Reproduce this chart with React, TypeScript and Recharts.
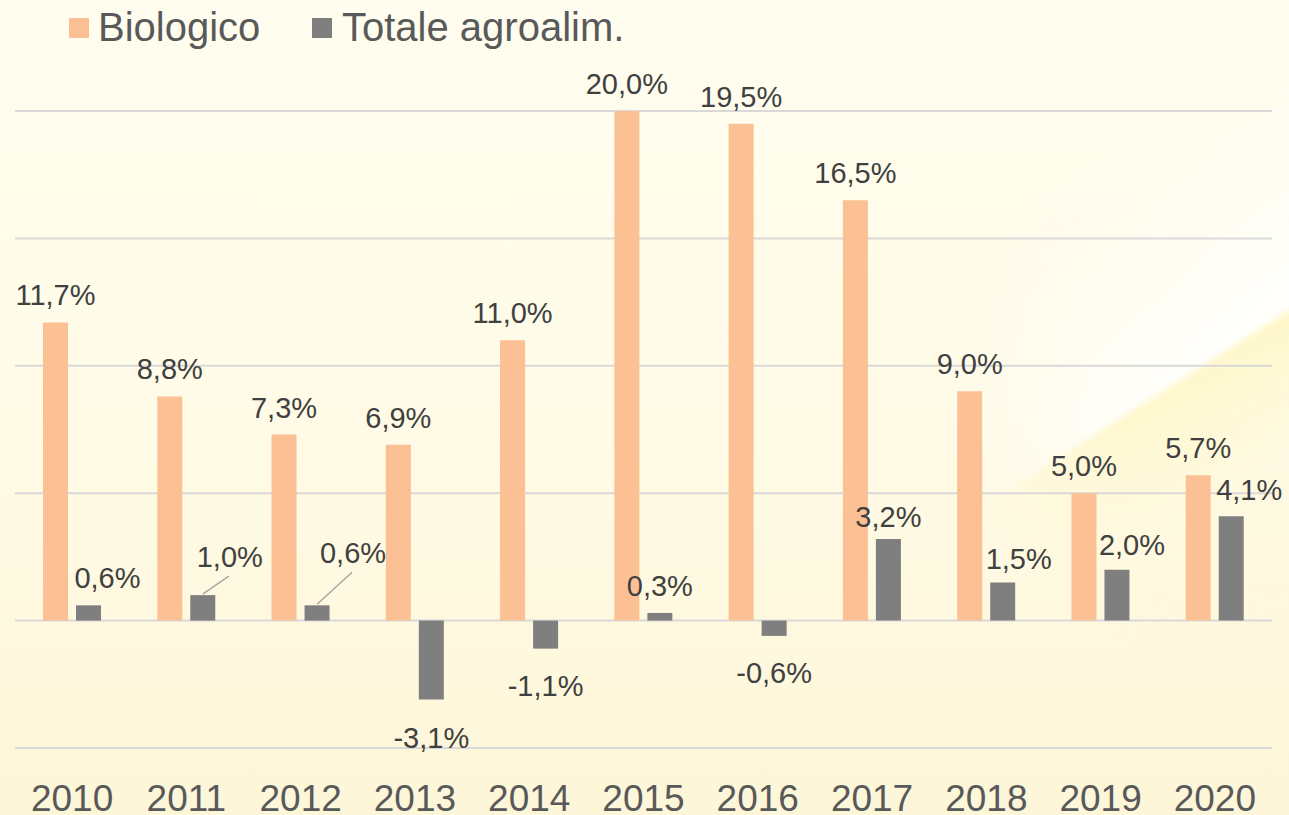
import React from 'react';
import { BarChart, Bar, XAxis, YAxis, CartesianGrid, LabelList } from 'recharts';

const years = ['2010', '2011', '2012', '2013', '2014', '2015', '2016', '2017', '2018', '2019', '2020'];
const biologico = [11.7, 8.8, 7.3, 6.9, 11.0, 20.0, 19.5, 16.5, 9.0, 5.0, 5.7];
const totale = [0.6, 1.0, 0.6, -3.1, -1.1, 0.3, -0.6, 3.2, 1.5, 2.0, 4.1];
const yTicks = [-5, 0, 5, 10, 15, 20];
const seriesNames = ['Biologico', 'Totale agroalim.'];

// label placement tweaks for the "Totale" series (as in the original)
const totLabelDx = [19, 27, 36, 0, 0, 0, 0, 0, 16, 15, 18];
const totLabelDy = [-17, -28, -42, 48, 47, -17, 47, -12, -13, -15, -16];
const totLeader = [false, true, true, false, false, false, false, false, false, false, false];

const data = years.map((y, i) => ({ year: y, bio: biologico[i], tot: totale[i] }));

const ORANGE = '#FBC093';
const GRAY = '#7F7F7F';
const FONT = '"Liberation Sans", Arial, sans-serif';

const fmt = (v: number) => v.toFixed(1).replace('.', ',') + '%';

const BioLabel = (props: any) => {
  const { x, y, width, height, value } = props;
  const top = Math.min(y, y + height);
  return (
    <text x={x + width / 2} y={top - 17} textAnchor="middle" fontSize={29} fill="#404040" fontFamily={FONT}>
      {fmt(value)}
    </text>
  );
};

const TotLabel = (props: any) => {
  const { x, y, width, height, value, index } = props;
  const top = Math.min(y, y + height);
  const bottom = Math.max(y, y + height);
  const cx = x + width / 2;
  const lx = cx + totLabelDx[index];
  const by = value >= 0 ? top + totLabelDy[index] : bottom + totLabelDy[index];
  return (
    <g>
      {totLeader[index] && (
        <line x1={cx} y1={top - 1} x2={lx - 1} y2={by + 9} stroke="#A6A6A6" strokeWidth={1.5} />
      )}
      <text x={lx} y={by} textAnchor="middle" fontSize={29} fill="#404040" fontFamily={FONT}>
        {fmt(value)}
      </text>
    </g>
  );
};

const Background = () => (
  <svg width={1289} height={815} style={{ position: 'absolute', left: 0, top: 0 }}>
    <defs>
      <linearGradient id="bgBase" x1="0" y1="0" x2="0" y2="1">
        <stop offset="0" stopColor="#FFFDEF" />
        <stop offset="0.5" stopColor="#FFFBE7" />
        <stop offset="1" stopColor="#FDF6D8" />
      </linearGradient>
      <linearGradient id="glow" gradientUnits="userSpaceOnUse" x1={1154} y1={101} x2={1354} y2={413}>
        <stop offset="0" stopColor="#FFFFFF" stopOpacity={0} />
        <stop offset="0.45" stopColor="#FFFFFF" stopOpacity={0.55} />
        <stop offset="0.66" stopColor="#FFFFFF" stopOpacity={0.9} />
        <stop offset="0.685" stopColor="#FFF6C2" stopOpacity={0.8} />
        <stop offset="1" stopColor="#FFF6C2" stopOpacity={0.1} />
      </linearGradient>
      <radialGradient id="fade" gradientUnits="userSpaceOnUse" cx={1289} cy={300} r={380}>
        <stop offset="0" stopColor="#FFFFFF" stopOpacity={1} />
        <stop offset="0.55" stopColor="#FFFFFF" stopOpacity={0.8} />
        <stop offset="1" stopColor="#FFFFFF" stopOpacity={0} />
      </radialGradient>
      <mask id="glowMask">
        <rect x={0} y={0} width={1289} height={815} fill="url(#fade)" />
      </mask>
    </defs>
    <rect x={0} y={0} width={1289} height={815} fill="url(#bgBase)" />
    <rect x={0} y={0} width={1289} height={815} fill="url(#glow)" mask="url(#glowMask)" />
  </svg>
);

export default function App() {
  return (
    <div style={{ position: 'absolute', left: 0, top: 0, width: 1289, height: 815, overflow: 'hidden' }}>
      <Background />
      <svg width={700} height={60} style={{ position: 'absolute', left: 0, top: 0 }}>
        <rect x={69} y={18} width={20} height={20} fill={ORANGE} />
        <text x={98} y={41} fontSize={40} fill="#595959" fontFamily={FONT}>
          {seriesNames[0]}
        </text>
        <rect x={312} y={18} width={20} height={20} fill={GRAY} />
        <text x={342} y={41} fontSize={40} fill="#595959" fontFamily={FONT}>
          {seriesNames[1]}
        </text>
      </svg>
      <div style={{ position: 'absolute', left: 0, top: 0 }}>
        <BarChart
          width={1289}
          height={815}
          data={data}
          margin={{ top: 111, right: 17, bottom: 0, left: 15 }}
          barGap={8}
          barSize={25}
        >
          <CartesianGrid vertical={false} stroke="#D9D9D9" strokeWidth={2} />
          <YAxis hide domain={[-5, 20]} ticks={yTicks} width={0} />
          <XAxis
            dataKey="year"
            axisLine={false}
            tickLine={false}
            tickSize={0}
            tickMargin={37}
            height={67}
            interval={0}
            tick={{ fontSize: 37, fill: '#595959', fontFamily: FONT }}
          />
          <Bar dataKey="bio" name={seriesNames[0]} fill={ORANGE} isAnimationActive={false}>
            <LabelList dataKey="bio" content={BioLabel} />
          </Bar>
          <Bar dataKey="tot" name={seriesNames[1]} fill={GRAY} isAnimationActive={false}>
            <LabelList dataKey="tot" content={TotLabel} />
          </Bar>
        </BarChart>
      </div>
    </div>
  );
}
